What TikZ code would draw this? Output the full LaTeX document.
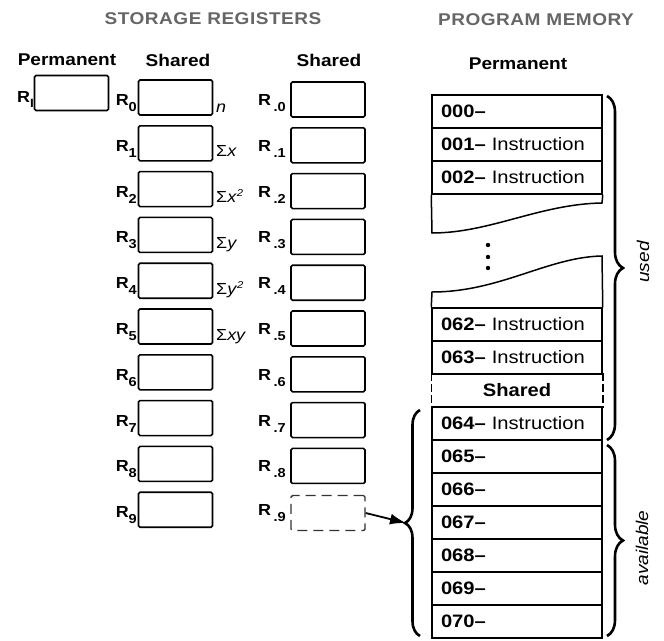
\documentclass[tikz,border=0pt]{standalone}
\usepackage{fontspec}
\setmainfont{Liberation Sans}[FakeStretch=1.12]
\usetikzlibrary{decorations.pathreplacing,arrows.meta}
\newcommand{\subix}[1]{\raisebox{-6pt}{\fontsize{13}{13}\selectfont #1}}
\newcommand{\supix}[1]{\raisebox{6pt}{\fontsize{10}{10}\selectfont\itshape #1}}
\begin{document}
\begin{tikzpicture}[x=1pt,y=-1pt,
  reg/.style={draw,line width=1.6pt,rounded corners=1.5pt,minimum width=74pt,minimum height=35pt,inner sep=0pt},
  rlab/.style={anchor=base east,inner sep=0pt,font=\fontsize{16}{16}\selectfont\bfseries},
  slab/.style={anchor=base west,inner sep=0pt,font=\fontsize{16}{16}\selectfont},
  head/.style={inner sep=0pt,font=\fontsize{17}{17}\selectfont\bfseries\addfontfeature{LetterSpace=3},text=black!60},
  subhead/.style={inner sep=0pt,font=\fontsize{17}{17}\selectfont\bfseries},
  mrow/.style={draw,line width=1.5pt,minimum width=170pt,minimum height=33pt,inner sep=0pt,text width=152pt,align=left,font=\fontsize{18}{18}\selectfont},
  brc/.style={decorate,decoration={brace,amplitude=16pt},line width=2.6pt},
  lbrc/.style={decorate,decoration={brace,amplitude=15pt},line width=2.6pt},
  edge/.style={line width=1.5pt},
  sidelab/.style={rotate=90,font=\fontsize{17}{17}\selectfont\itshape,inner sep=0pt},
]
\useasboundingbox (0,0) rectangle (664,640);
% headings
\node[head] (hsr) at (213,19) {STORAGE REGISTERS};
\node[head] (hpm) at (536,20) {PROGRAM MEMORY};
\node[subhead] (hperm) at (67,60) {Permanent};
\node[subhead] (hsh1) at (178,60) {Shared};
\node[subhead] (hsh2) at (329,60) {Shared};
\node[subhead] (hperm2) at (518,64) {Permanent};
% permanent register
\node[reg] (ri) at (71.5,93) {};
\node[rlab] (lri) at (34,102) {R\raisebox{-5pt}{\fontsize{12}{12}\selectfont I}};
% shared registers
\foreach \i in {0,...,9} {
  \pgfmathsetmacro\yc{97.5+45.8*\i}
  \node[reg] (s\i) at (175.5,\yc) {};
  \node[rlab] (ls\i) at (137,\yc+8) {R\subix{\i}};
}
\foreach \i in {0,...,8} {
  \pgfmathsetmacro\yc{99.5+45.8*\i}
  \node[reg] (t\i) at (328,\yc) {};
  \node[rlab] (lt\i) at (286,\yc+6) {R\,\subix{.\i}};
}
\node[reg,draw=black!80,line width=1.4pt,dash pattern=on 10pt off 6pt] (t9) at (328,513) {};
\node[rlab] (lt9) at (286,515) {R\,\subix{.9}};
% sigma labels
\node[slab] (g0) at (216,112) {\textit{n}};
\node[slab] (g1) at (216,156) {Σ\textit{x}};
\node[slab] (g2) at (216,202) {Σ\textit{x}\supix{2}};
\node[slab] (g3) at (216,248) {Σ\textit{y}};
\node[slab] (g4) at (216,294) {Σ\textit{y}\supix{2}};
\node[slab] (g5) at (216,340) {Σ\textit{xy}};
% program memory, upper block
\node[mrow] (m0) at (517,111.5) {\textbf{000–}};
\node[mrow] (m1) at (517,144.5) {\textbf{001–} Instruction};
\node[mrow] (m2) at (517,177.5) {\textbf{002–} Instruction};
\draw[edge] (m2.south west) -- (432,233) .. controls (490,233) and (540,204) .. (602,203) -- (m2.south east);
% dots
\fill (488,245) circle (2.2pt);
\fill (488,257) circle (2.2pt);
\fill (488,268) circle (2.2pt);
% lower block
\node[mrow] (m62) at (517,324.5) {\textbf{062–} Instruction};
\draw[edge] (m62.north west) -- (432,292) .. controls (500,292) and (548,257) .. (602,256) -- (m62.north east);
\node[mrow] (m63) at (517,357.5) {\textbf{063–} Instruction};
\node[mrow,draw=none,align=center] (msh) at (517,390.5) {\textbf{Shared}};
\draw[edge,dash pattern=on 8pt off 3pt] (msh.north west) -- (msh.south west);
\draw[edge,dash pattern=on 8pt off 3pt] (msh.north east) -- (msh.south east);
\node[mrow] (m64) at (517,423.5) {\textbf{064–} Instruction};
\node[mrow] (m65) at (517,456.5) {\textbf{065–}};
\node[mrow] (m66) at (517,489.5) {\textbf{066–}};
\node[mrow] (m67) at (517,522.5) {\textbf{067–}};
\node[mrow] (m68) at (517,555.5) {\textbf{068–}};
\node[mrow] (m69) at (517,588.5) {\textbf{069–}};
\node[mrow] (m70) at (517,621.5) {\textbf{070–}};
% braces
\coordinate (ut) at (607,96);
\coordinate (ub) at (607,440);
\coordinate (at) at (607,445);
\coordinate (ab) at (607,636);
\coordinate (lt) at (420,410);
\coordinate (lb) at (420,636);
\coordinate (ltip) at (406,523);
\draw[brc] (ut) -- (ub);
\draw[brc] (at) -- (ab);
\draw[lbrc] (lb) -- (lt);
\node[sidelab] (used) at (643,262) {used};
\node[sidelab] (avail) at (642,548) {available};
% arrow
\draw[-{Latex[length=16pt,width=11pt]},line width=1.8pt] (t9.east) -- (ltip);
\end{tikzpicture}
\end{document}
